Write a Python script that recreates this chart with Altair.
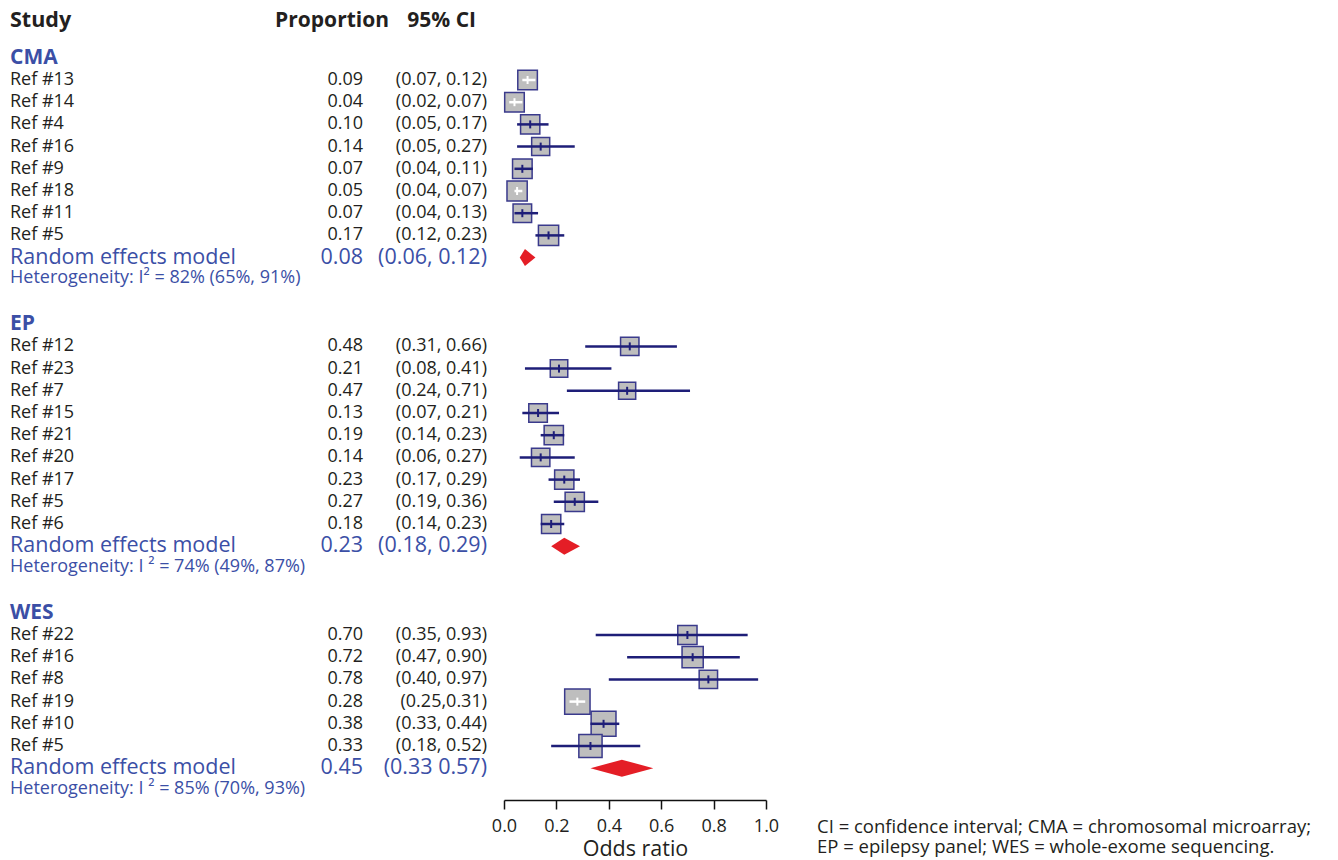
import altair as alt
import pandas as pd
import numpy as np

# ---------------- data ----------------
groups = ["CMA", "EP", "WES"]

cma_study = ["Ref #13", "Ref #14", "Ref #4", "Ref #16", "Ref #9", "Ref #18", "Ref #11", "Ref #5"]
cma_prop = [0.09, 0.04, 0.10, 0.14, 0.07, 0.05, 0.07, 0.17]
cma_lo = [0.07, 0.02, 0.05, 0.05, 0.04, 0.04, 0.04, 0.12]
cma_hi = [0.12, 0.07, 0.17, 0.27, 0.11, 0.07, 0.13, 0.23]
cma_ci_text = ["(0.07, 0.12)", "(0.02, 0.07)", "(0.05, 0.17)", "(0.05, 0.27)",
               "(0.04, 0.11)", "(0.04, 0.07)", "(0.04, 0.13)", "(0.12, 0.23)"]
cma_weight = [5.9, 5.9, 5.7, 5.0, 5.9, 6.3, 5.3, 6.3]

ep_study = ["Ref #12", "Ref #23", "Ref #7", "Ref #15", "Ref #21", "Ref #20", "Ref #17", "Ref #5", "Ref #6"]
ep_prop = [0.48, 0.21, 0.47, 0.13, 0.19, 0.14, 0.23, 0.27, 0.18]
ep_lo = [0.31, 0.08, 0.24, 0.07, 0.14, 0.06, 0.17, 0.19, 0.14]
ep_hi = [0.66, 0.41, 0.71, 0.21, 0.23, 0.27, 0.29, 0.36, 0.23]
ep_ci_text = ["(0.31, 0.66)", "(0.08, 0.41)", "(0.24, 0.71)", "(0.07, 0.21)", "(0.14, 0.23)",
              "(0.06, 0.27)", "(0.17, 0.29)", "(0.19, 0.36)", "(0.14, 0.23)"]
ep_weight = [5.2, 4.7, 4.5, 5.3, 5.7, 5.2, 5.7, 5.7, 5.7]

wes_study = ["Ref #22", "Ref #16", "Ref #8", "Ref #19", "Ref #10", "Ref #5"]
wes_prop = [0.70, 0.72, 0.78, 0.28, 0.38, 0.33]
wes_lo = [0.35, 0.47, 0.40, 0.25, 0.33, 0.18]
wes_hi = [0.93, 0.90, 0.97, 0.31, 0.44, 0.52]
wes_ci_text = ["(0.35, 0.93)", "(0.47, 0.90)", "(0.40, 0.97)", "(0.25,0.31)", "(0.33, 0.44)", "(0.18, 0.52)"]
wes_weight = [5.7, 6.9, 5.2, 9.9, 9.5, 8.3]

rem_est = [0.08, 0.23, 0.45]
rem_lo = [0.06, 0.18, 0.33]
rem_hi = [0.12, 0.29, 0.57]
rem_ci_text = ["(0.06, 0.12)", "(0.18, 0.29)", "(0.33 0.57)"]
het_text = ["Heterogeneity: I\u00b2 = 82% (65%, 91%)",
            "Heterogeneity: I \u00b2 = 74% (49%, 87%)",
            "Heterogeneity: I \u00b2 = 85% (70%, 93%)"]

footnote = ["CI = confidence interval; CMA = chromosomal microarray;",
            "EP = epilepsy panel; WES = whole-exome sequencing."]

# ---------------- layout constants ----------------
FONT = "Open Sans"
BLACK = "#231f20"
BLUE = "#3b4fa6"
NAVY = "#1e1e78"
BOX_STROKE = "#3a3a8c"
BOX_FILL = "#bebebe"
RED = "#e41e26"
ROW_PX = 22.2
X_RANGE = [496, 758]
SIZE_RANGE_MAX = 650.0
SIZE_DOMAIN_MAX = 10.0
PAD_TOP = 8
PLOT_H = 784
Y_DOMAIN = [(16 - 80) / ROW_PX, (800 - 80) / ROW_PX]

# ---------------- tables ----------------
study_rows, group_rows, rem_rows, diamond_rows, het_rows = [], [], [], [], []
group_data = [
    (cma_study, cma_prop, cma_lo, cma_hi, cma_ci_text, cma_weight),
    (ep_study, ep_prop, ep_lo, ep_hi, ep_ci_text, ep_weight),
    (wes_study, wes_prop, wes_lo, wes_hi, wes_ci_text, wes_weight),
]
k = -1
px_per_unit = X_RANGE[1] - X_RANGE[0]
half_h = 8.5 / ROW_PX
for gi, (g, (st, pr, lo, hi, cit, wt)) in enumerate(zip(groups, group_data)):
    group_rows.append({"group": g, "k": k})
    k += 1
    for s, p, l, h, c, w in zip(st, pr, lo, hi, cit, wt):
        side = np.sqrt(w * SIZE_RANGE_MAX / SIZE_DOMAIN_MAX) + 1.5
        inside = (h - l) * px_per_unit < 0.8 * side
        study_rows.append({"group": g, "study": s, "prop": p, "lo": l, "hi": h,
                           "weight": w, "k": k, "prop_text": f"{p:.2f}", "ci_text": c,
                           "ci_color": "white" if inside else NAVY})
        k += 1
    rem_rows.append({"group": g, "label": "Random effects model", "est": rem_est[gi],
                     "est_text": f"{rem_est[gi]:.2f}", "ci_text": rem_ci_text[gi], "k": k})
    diamond_rows += [
        {"group": g, "x": rem_lo[gi], "y": k, "y2": k},
        {"group": g, "x": rem_est[gi], "y": k - half_h, "y2": k + half_h},
        {"group": g, "x": rem_hi[gi], "y": k, "y2": k},
    ]
    het_rows.append({"group": g, "text": het_text[gi], "k": k + 0.92})
    k += 3

studies = pd.DataFrame(study_rows)
grp = pd.DataFrame(group_rows)
rem = pd.DataFrame(rem_rows)
diamond = pd.DataFrame(diamond_rows)
het = pd.DataFrame(het_rows)
header = pd.DataFrame({"text": ["Study", "Proportion", "95% CI"], "k": [-2.68] * 3})
foot = pd.DataFrame({"text": ["\n".join(footnote)]})

yscale = alt.Scale(domain=Y_DOMAIN, reverse=True, nice=False, zero=False)
xscale = alt.Scale(domain=[0, 1], range=X_RANGE, nice=False, zero=False)
xaxis = alt.Axis(values=[0, 0.2, 0.4, 0.6, 0.8, 1.0], format=".1f", title="Odds ratio",
                 grid=False, labelFlush=False, labelOverlap=False)
Y = alt.Y("k:Q", scale=yscale, axis=None)

ROW_FS = 18
REM_FS = 21.5
HDR_FS = 21


def txt(df, field, x, align="left", fs=ROW_FS, color=BLACK, weight="normal"):
    return alt.Chart(df).mark_text(align=align, baseline="middle", font=FONT, fontSize=fs,
                                   color=color, fontWeight=weight).encode(
        x=alt.value(x), y=Y, text=f"{field}:N")


# ---------------- layers ----------------
study_name = txt(studies, "study", 2)
prop_txt = txt(studies, "prop_text", 355, "right")
ci_txt = txt(studies, "ci_text", 479, "right")
grp_txt = txt(grp, "group", 2, fs=21, color=BLUE, weight="bold")
rem_label = txt(rem, "label", 2, fs=REM_FS, color=BLUE)
rem_est_txt = txt(rem, "est_text", 355, "right", fs=REM_FS, color=BLUE)
rem_ci_txt = txt(rem, "ci_text", 479, "right", fs=REM_FS, color=BLUE)
het_txt = txt(het, "text", 2, fs=18, color=BLUE)
hdr_study = txt(header[header.text == "Study"], "text", 2, fs=21.5, weight="bold")
hdr_prop = txt(header[header.text == "Proportion"], "text", 381, "right", fs=HDR_FS, weight="bold")
hdr_ci = txt(header[header.text == "95% CI"], "text", 468, "right", fs=HDR_FS, weight="bold")

boxes = alt.Chart(studies).mark_square(fill=BOX_FILL, stroke=BOX_STROKE, strokeWidth=1.5,
                                       opacity=1, fillOpacity=1).encode(
    x=alt.X("prop:Q", scale=xscale, axis=xaxis),
    y=Y,
    size=alt.Size("weight:Q", scale=alt.Scale(domain=[0, SIZE_DOMAIN_MAX], range=[0, SIZE_RANGE_MAX]),
                  legend=None),
)
ci_rule = alt.Chart(studies).mark_rule(strokeWidth=2.5).encode(
    x=alt.X("lo:Q", scale=xscale, axis=xaxis), x2="hi:Q", y=Y,
    color=alt.Color("ci_color:N", scale=None))
est_tick = alt.Chart(studies).mark_rule(strokeWidth=2, yOffset=-4, y2Offset=4).encode(
    x=alt.X("prop:Q", scale=xscale, axis=xaxis), y=Y, y2="k:Q",
    color=alt.Color("ci_color:N", scale=None))

dia = alt.Chart(diamond).mark_area(color=RED, orient="vertical", opacity=1).encode(
    x=alt.X("x:Q", scale=xscale, axis=xaxis),
    y=alt.Y("y:Q", scale=yscale, axis=None), y2="y2:Q", detail="group:N")

foot_txt = alt.Chart(foot).mark_text(align="left", baseline="middle", font=FONT,
                                     fontSize=18.5, color=BLACK, lineBreak="\n",
                                     lineHeight=19.5).encode(
    x=alt.value(809), y=alt.value(811), text="text:N")

chart = alt.layer(
    boxes, ci_rule, est_tick, dia,
    hdr_study, hdr_prop, hdr_ci, grp_txt, study_name, prop_txt, ci_txt,
    rem_label, rem_est_txt, rem_ci_txt, het_txt, foot_txt,
).properties(
    width=1322, height=PLOT_H,
    autosize=alt.AutoSizeParams(type="none"),
    padding={"left": 0, "top": PAD_TOP, "right": 0, "bottom": 60},
).configure_view(stroke=None).configure_axis(
    labelFont=FONT, labelFontSize=18, labelColor=BLACK, labelPadding=8,
    titleFont=FONT, titleFontSize=21.5, titleFontWeight="normal", titleColor=BLACK, titlePadding=3,
    domainColor="#111111", domainWidth=1.5, tickColor="#111111", tickWidth=1.5, tickSize=9,
)

chart.save("out.html", embed_options={"renderer": "svg", "actions": False})
